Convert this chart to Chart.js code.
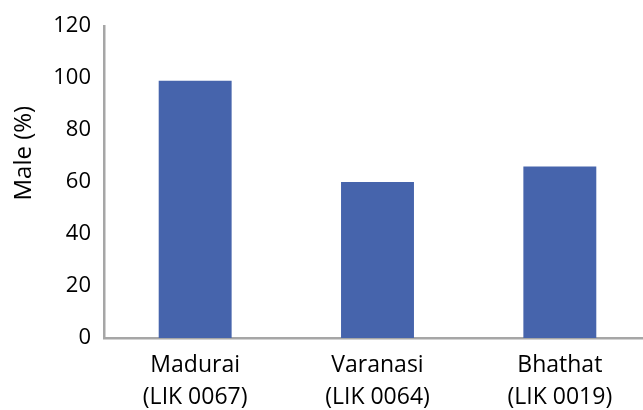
<!DOCTYPE html>
<html>
<head>
<meta charset="utf-8">
<script src="https://cdn.jsdelivr.net/npm/chart.js@4.4.0/dist/chart.umd.min.js"></script>
<style>
    html, body { margin: 0; padding: 0; background: #fff; overflow: hidden; }
    #wrap { width: 652px; height: 410px; }
</style>
</head>
<body>
<div id="wrap"><canvas id="js-male-chart"></canvas></div>
<script>
var sites = [["Madurai", "(LIK 0067)"], ["Varanasi", "(LIK 0064)"], ["Bhathat", "(LIK 0019)"]];
var malePercent = [99, 60, 66];
var yTicks = [0, 20, 40, 60, 80, 100, 120];
var yTitle = "Male (%)";

var axisGrey = "#a6a6a6";
var fontFamily = "'Open Sans', 'Liberation Sans', sans-serif";

// y axis title sits above the middle of the axis, so draw it by hand
var sideTitle = {
    id: "sideTitle",
    afterDraw: function (chart) {
        var ctx = chart.ctx;
        var area = chart.chartArea;
        ctx.save();
        ctx.translate(area.left - 80, area.top + 127);
        ctx.rotate(-Math.PI / 2);
        ctx.font = "24px " + fontFamily;
        ctx.fillStyle = "#000";
        ctx.textAlign = "center";
        ctx.textBaseline = "middle";
        ctx.fillText(yTitle, 0, 0);
        ctx.restore();
    }
};

var chart = new Chart(document.getElementById("js-male-chart"), {
    type: "bar",
    data: {
        labels: sites,
        datasets: [{
            data: malePercent,
            backgroundColor: "#4664ac",
            borderWidth: 0,
            categoryPercentage: 1,
            barPercentage: 0.4
        }]
    },
    options: {
        responsive: true,
        maintainAspectRatio: false,
        animation: false,
        layout: { padding: { top: 25, right: 1, bottom: 0, left: 0 } },
        plugins: {
            legend: { display: false },
            tooltip: { enabled: false }
        },
        scales: {
            x: {
                grid: { display: false, drawTicks: false },
                border: { color: axisGrey, width: 2.5 },
                ticks: {
                    color: "#000",
                    padding: 12,
                    maxRotation: 0,
                    font: { family: fontFamily, size: 23, lineHeight: 1.38 }
                },
                afterFit: function (scale) { scale.height = 72; }
            },
            y: {
                min: 0,
                max: 120,
                afterBuildTicks: function (scale) {
                    scale.ticks = yTicks.map(function (v) { return { value: v }; });
                },
                grid: { display: false, drawTicks: false },
                border: { color: axisGrey, width: 2.5 },
                ticks: {
                    color: "#000",
                    padding: 13,
                    font: { family: fontFamily, size: 22 }
                },
                afterFit: function (scale) { scale.width = 104; }
            }
        }
    },
    plugins: [sideTitle]
});
</script>
</body>
</html>
